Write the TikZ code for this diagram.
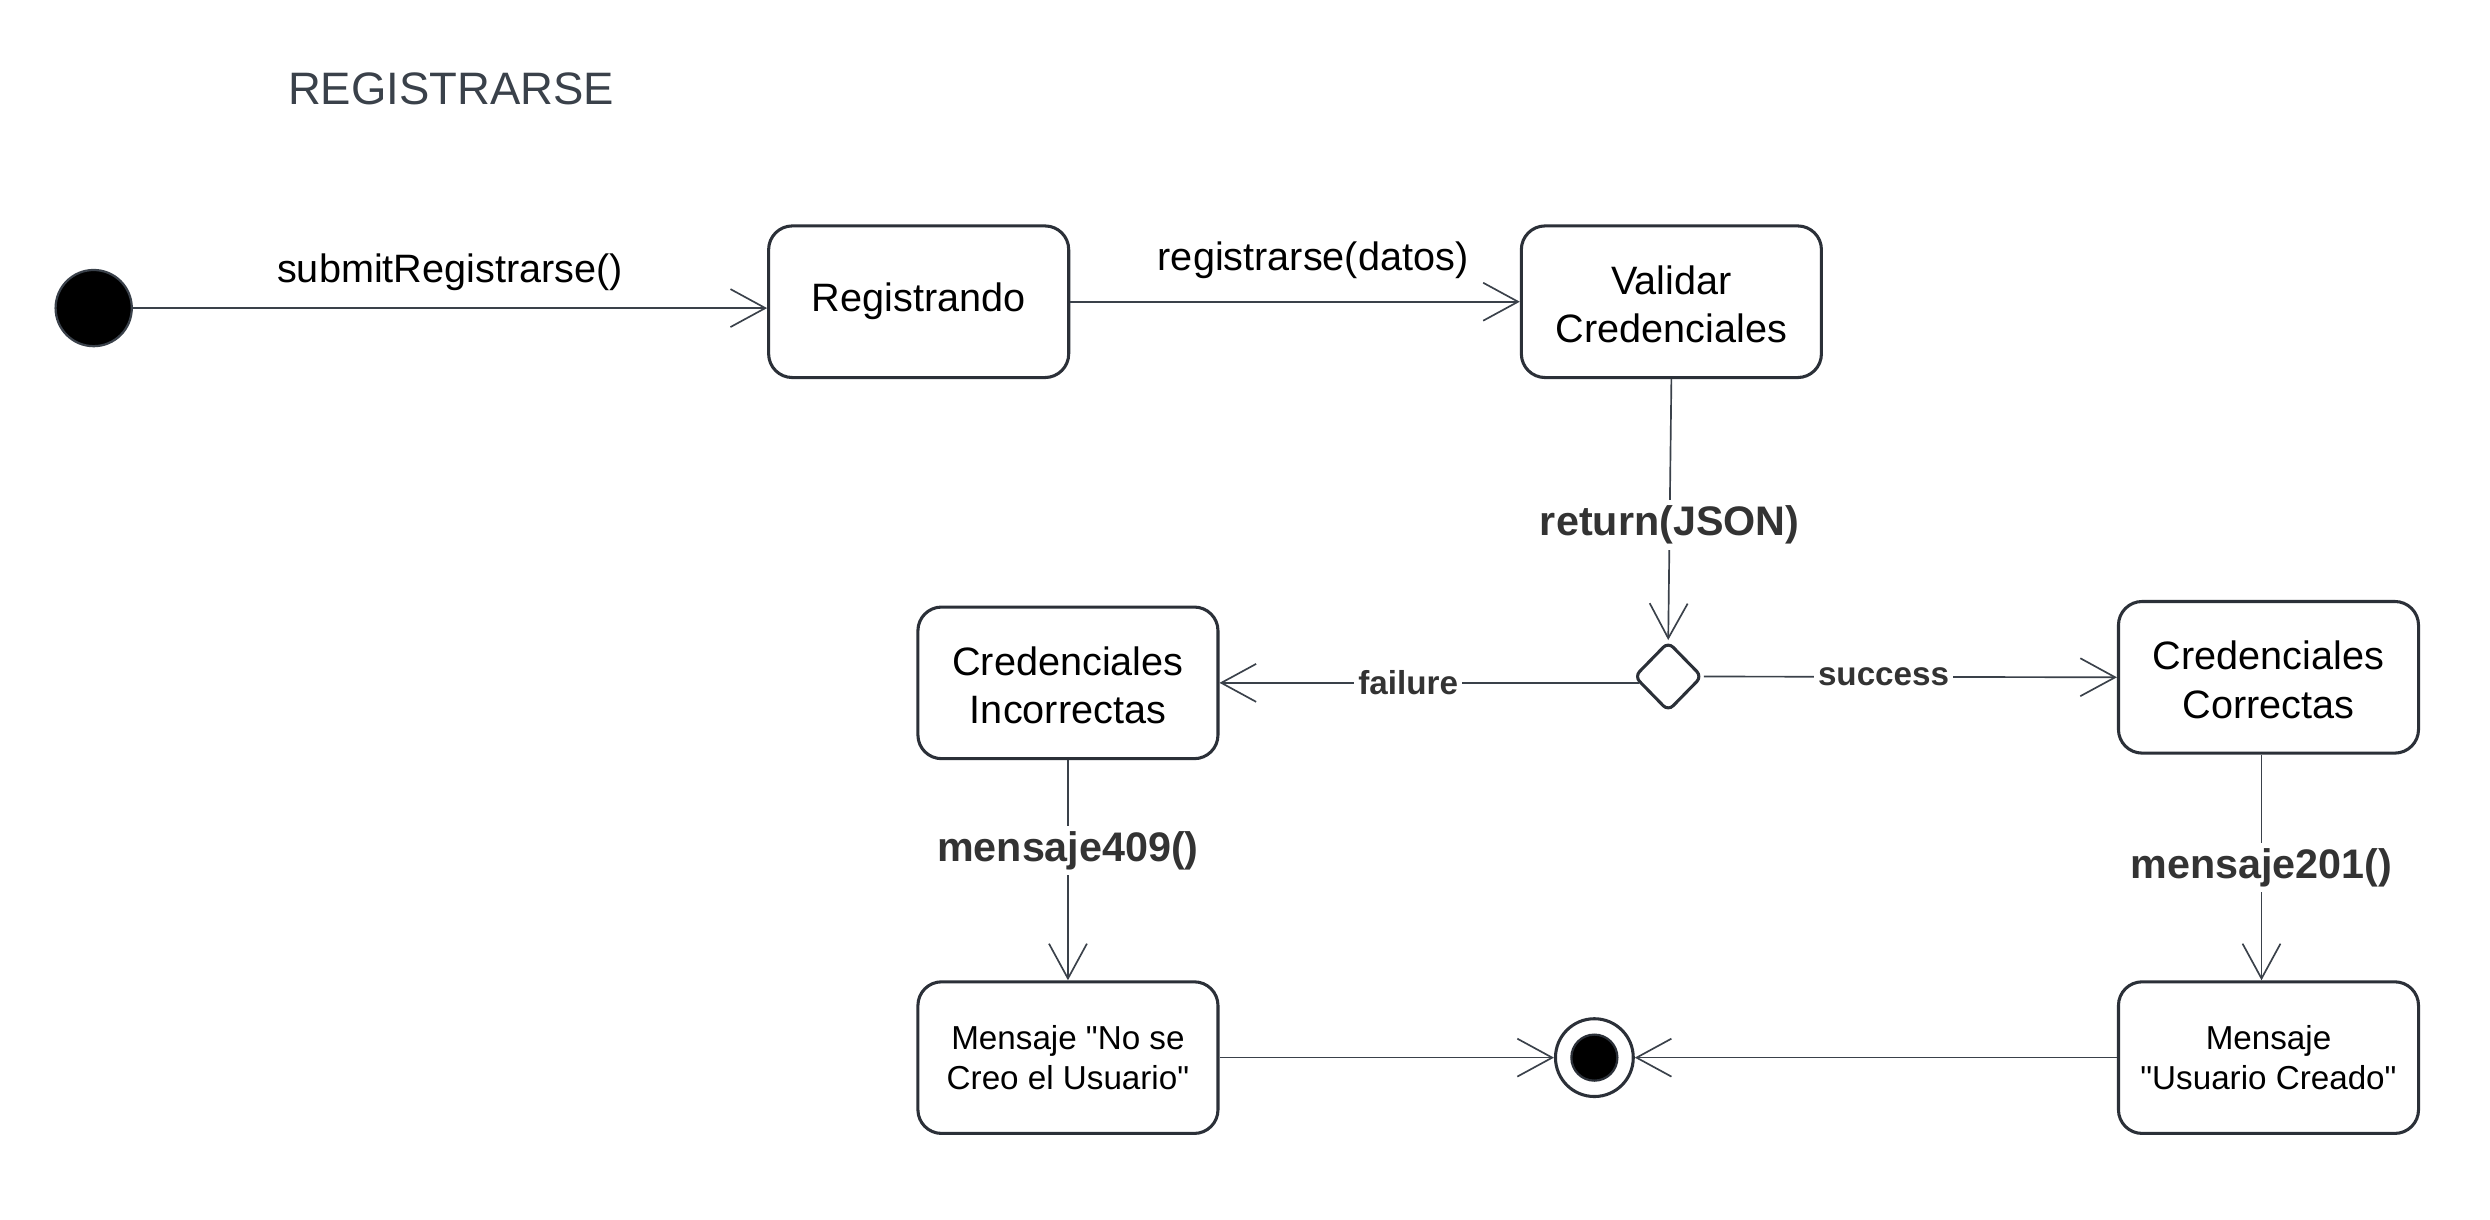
\documentclass[tikz,border=0pt]{standalone}
\usepackage{fontspec}
\setmainfont{Liberation Sans}
\usetikzlibrary{arrows.meta,shapes.geometric}

\definecolor{linegray}{HTML}{3A414A}
\definecolor{boxgray}{HTML}{2B3038}
\definecolor{labelgray}{HTML}{333333}

\begin{document}
\begin{tikzpicture}[x=0.02cm,y=-0.02cm,
	state/.style={rectangle,rounded corners=8.5pt,draw=boxgray,line width=1.1pt,fill=white,
		minimum width=3.78cm,minimum height=1.91cm,align=center,font=\fontsize{14.2}{17.4}\selectfont},
	smallstate/.style={state,font=\fontsize{11.9}{14.2}\selectfont},
	initial/.style={circle,draw=linegray,line width=0.8pt,fill=black,minimum size=0.96cm,inner sep=0pt},
	final/.style={circle,draw=boxgray,line width=1.1pt,fill=white,minimum size=0.98cm,inner sep=0pt},
	decision/.style={diamond,draw=boxgray,line width=1.1pt,fill=white,minimum width=0.86cm,
		minimum height=0.88cm,inner sep=0pt,rounded corners=2.5pt},
	trans/.style={draw=linegray,line width=0.6pt,-{Straight Barb[length=12.5pt,width=13.6pt]}},
	call/.style={above,inner sep=2pt,font=\fontsize{14.2}{17}\selectfont},
	guard/.style={fill=white,inner sep=1.5pt,text=labelgray,font=\fontsize{11.9}{14}\selectfont\bfseries},
	event/.style={fill=white,inner sep=2pt,text=labelgray,font=\fontsize{14.8}{17}\selectfont\bfseries}]
\useasboundingbox (0,0) rectangle (1568,768);

\node[text=linegray,font=\fontsize{16.3}{19}\selectfont] (title) at (284,56) {REGISTRARSE};

\node[initial] (init) at (59,194) {};
\node[state] (reg) at (578.5,190) {Registrando};
\node[state] (val) at (1052.5,190) {\strut Validar\\Credenciales};
\node[decision] (dec) at (1050.5,426) {};
\node[state] (incorr) at (672.5,430) {\strut Credenciales\\Incorrectas};
\node[state] (corr) at (1428.5,426.5) {\strut Credenciales\\Correctas};
\node[smallstate] (nocreo) at (672.5,666) {Mensaje \textquotedbl No se\\Creo el Usuario\textquotedbl};
\node[smallstate] (creado) at (1428.5,666) {Mensaje\\\textquotedbl Usuario Creado\textquotedbl};
\node[final] (fin) at (1004,666) {};
\fill[black,draw=boxgray,line width=0.8pt] (fin) circle (0.29cm);

\draw[trans] (init) -- (init -| reg.west) node[call,midway,above=4pt] {submitRegistrarse()};
\draw[trans] (reg.east) -- (val.west) node[call,pos=0.54,above=6pt] {registrarse(datos)};
\draw[trans] (val.south) -- (dec.north) node[event,pos=0.56] {return(JSON)};
\draw[trans] ([xshift=2.2pt]dec.west |- incorr.east) -- (incorr.east) node[guard,pos=0.55] {failure};
\draw[trans] (dec.east) -- (corr.west) node[guard,pos=0.435] {success};
\draw[trans] (incorr.south) -- (nocreo.north) node[event,pos=0.41] {mensaje409()};
\draw[trans] ([xshift=-2.5pt]corr.south) -- ([xshift=-2.5pt]creado.north) node[event,pos=0.5] {mensaje201()};
\draw[trans] (nocreo.east) -- (fin.west);
\draw[trans] (creado.west) -- (fin.east);
\end{tikzpicture}
\end{document}
